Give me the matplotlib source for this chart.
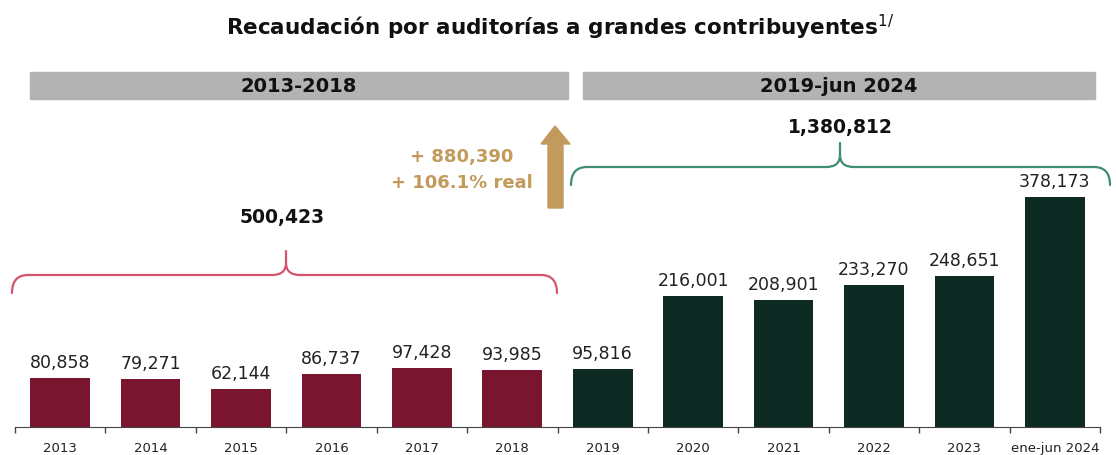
import matplotlib
matplotlib.use("Agg")
import matplotlib.pyplot as plt
from matplotlib.path import Path
from matplotlib.patches import PathPatch, Polygon, Rectangle

years = ["2013", "2014", "2015", "2016", "2017", "2018",
         "2019", "2020", "2021", "2022", "2023", "ene-jun 2024"]
values = [80858, 79271, 62144, 86737, 97428, 93985,
          95816, 216001, 208901, 233270, 248651, 378173]
period_labels = ["2013-2018", "2019-jun 2024"]
period_totals = ["500,423", "1,380,812"]
change_text = ["+ 880,390", "+ 106.1% real"]

RED = "#7a1530"
GREEN = "#0d2b22"
GRAY = "#b3b3b3"
GOLD = "#c19a5c"
PINK = "#d4546c"
TEAL = "#3f8c70"

W, H = 1116, 456
plt.rcParams["font.family"] = ["DejaVu Sans"]
fig = plt.figure(figsize=(W / 100, H / 100), dpi=100)
ax = fig.add_axes([15 / W, 28 / H, 1085 / W, 428 / H])

colors = [RED] * 6 + [GREEN] * 6
x = list(range(len(years)))
ax.bar(x, values, width=0.66, color=colors)
for xi, v in zip(x, values):
    ax.annotate(f"{v:,}", (xi, v), xytext=(0, 5), textcoords="offset points",
                ha="center", va="bottom", fontsize=12.5, color="#222222")

ax.set_xlim(-0.5, len(years) - 0.5)
ax.set_ylim(0, 378173 * 428 / 230)
ax.set_xticks([i - 0.5 for i in range(len(years) + 1)])
ax.set_xticklabels([])
ax.set_xticks(x, minor=True)
ax.set_xticklabels(years, minor=True, fontsize=9.5, color="#222222")
ax.tick_params(axis="x", which="minor", length=0, pad=10)
ax.tick_params(axis="x", which="major", length=4, width=1, color="#444444")
ax.set_yticks([])
for s in ["top", "right", "left"]:
    ax.spines[s].set_visible(False)
ax.spines["bottom"].set_color("#444444")


def px(xp, yp):
    return (xp / W, 1 - yp / H)


def bracket(x0, x1, xm, y, color):
    pts = [(x0, y + 18), (x0, y), (x0 + 16, y), (xm - 14, y), (xm, y), (xm, y - 12), (xm, y - 24),
           (xm, y - 12), (xm, y), (xm + 14, y), (x1 - 16, y), (x1, y), (x1, y + 18)]
    codes = [Path.MOVETO, Path.CURVE3, Path.CURVE3, Path.LINETO, Path.CURVE3, Path.CURVE3, Path.LINETO,
             Path.MOVETO, Path.CURVE3, Path.CURVE3, Path.LINETO, Path.CURVE3, Path.CURVE3]
    p = Path([px(*q) for q in pts], codes)
    fig.patches.append(PathPatch(p, fill=False, edgecolor=color, lw=1.6,
                                 transform=fig.transFigure, capstyle="round"))


# title
fig.text(0.502, 1 - 27 / H, "Recaudación por auditorías a grandes contribuyentes$^{1/}$",
         ha="center", va="center", fontsize=15.5, fontweight="bold", color="#111111")

# period headers
for (x0, x1), lab in zip([(30, 568), (583, 1095)], period_labels):
    fig.patches.append(Rectangle(px(x0, 100), (x1 - x0) / W, 27 / H, color=GRAY,
                                 transform=fig.transFigure))
    fig.text((x0 + x1) / 2 / W, 1 - 87 / H, lab, ha="center", va="center",
             fontsize=14, fontweight="bold", color="#111111")

# brackets and totals
bracket(12, 557, 286, 276, PINK)
fig.text(282 / W, 1 - 218 / H, period_totals[0], ha="center", va="center",
         fontsize=13.5, fontweight="bold", color="#111111")
bracket(571, 1110, 840, 168, TEAL)
fig.text(840 / W, 1 - 128 / H, period_totals[1], ha="center", va="center",
         fontsize=13.5, fontweight="bold", color="#111111")

# growth arrow
arrow = [(548, 209), (548, 145), (541, 145), (555, 127), (570, 145), (563, 145), (563, 209)]
fig.patches.append(Polygon([px(*q) for q in arrow], closed=True, color=GOLD,
                           transform=fig.transFigure))
fig.text(462 / W, 1 - 157 / H, change_text[0], ha="center", va="center",
         fontsize=13, fontweight="bold", color=GOLD)
fig.text(462 / W, 1 - 183 / H, change_text[1], ha="center", va="center",
         fontsize=13, fontweight="bold", color=GOLD)

fig.savefig("out.png", dpi=100, facecolor="white")
